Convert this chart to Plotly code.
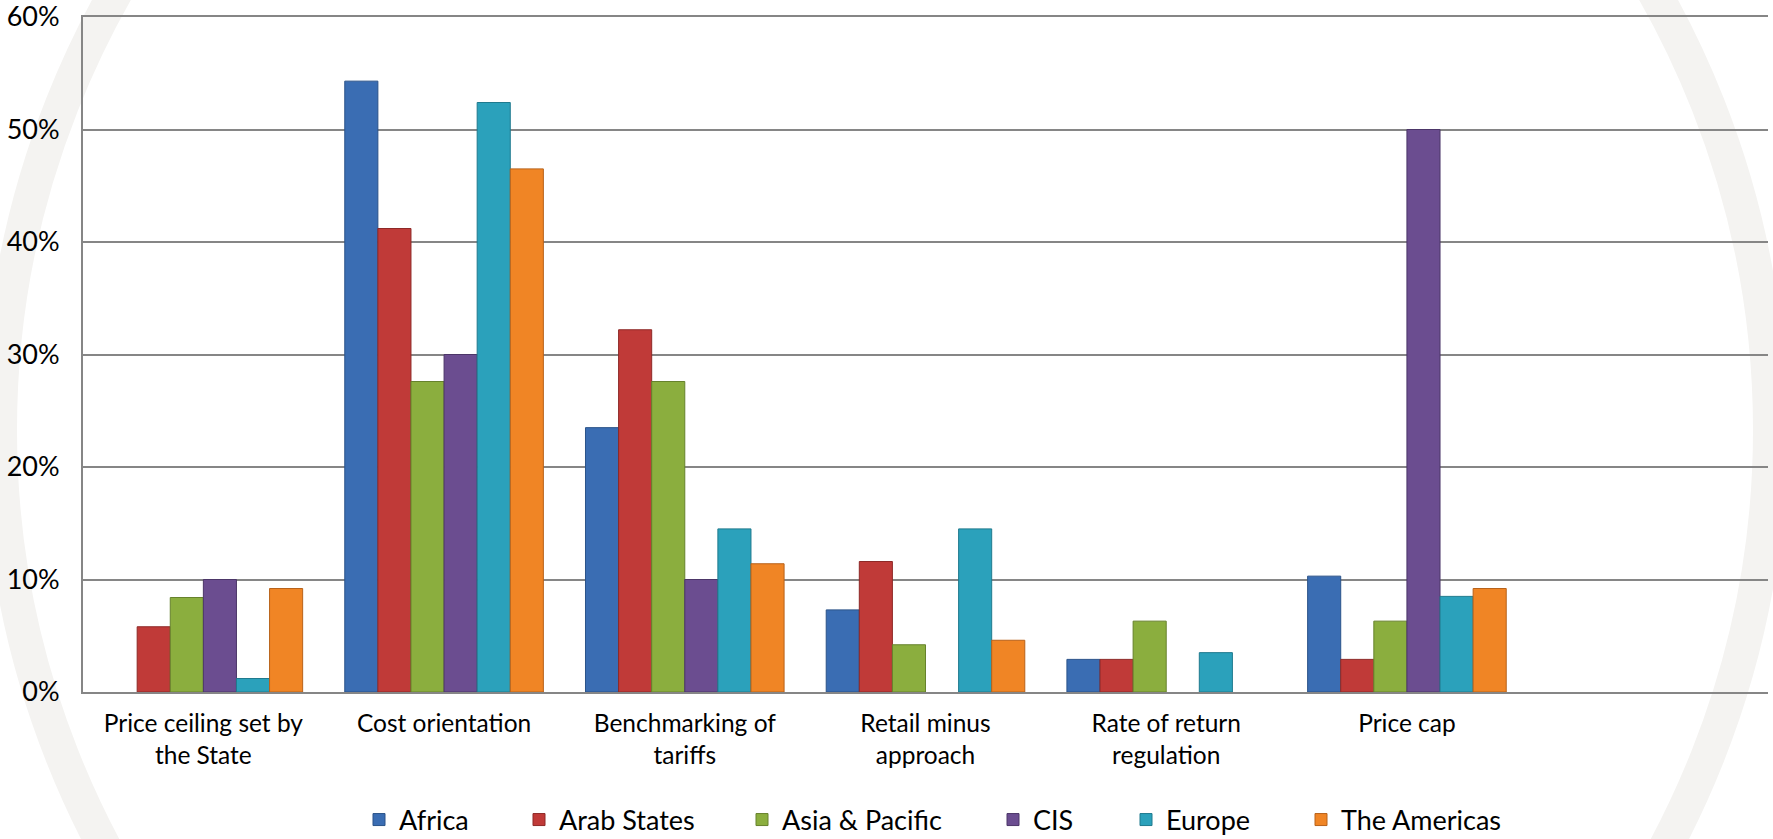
import plotly.graph_objects as go

categories = ["Price ceiling set by<br>the State", "Cost orientation", "Benchmarking of<br>tariffs",
              "Retail minus<br>approach", "Rate of return<br>regulation", "Price cap"]
regions = ["Africa", "Arab States", "Asia & Pacific", "CIS", "Europe", "The Americas"]
africa = [None, 54.3, 23.5, 7.3, 2.9, 10.3]
arab_states = [5.8, 41.2, 32.2, 11.6, 2.9, 2.9]
asia_pacific = [8.4, 27.6, 27.6, 4.2, 6.3, 6.3]
cis = [10.0, 30.0, 10.0, None, None, 50.0]
europe = [1.2, 52.4, 14.5, 14.5, 3.5, 8.5]
americas = [9.2, 46.5, 11.4, 4.6, None, 9.2]
y_tick_vals = [0, 10, 20, 30, 40, 50, 60]
y_tick_text = ["0%", "10%", "20%", "30%", "40%", "50%", "60%"]
series = [africa, arab_states, asia_pacific, cis, europe, americas]
colors = ["#3a6db3", "#c03a38", "#8bae3e", "#6b4d90", "#2ba1bb", "#f08525"]
edges = ["#2b5389", "#8e2927", "#66822c", "#4c3668", "#1f7a8e", "#b8621a"]
legend_text_px = [403, 563, 786, 1037, 1170, 1345]

W, H = 1773, 839
L, R, T, B = 83, 5, 17, 147
pw, ph = W - L - R, H - T - B

def px2x(px):
    return (px - L) / pw

def py2y(py):
    return (H - B - py) / ph

fig = go.Figure()
for i, (name, vals) in enumerate(zip(regions, series)):
    lg = "legend" if i == 0 else f"legend{i+1}"
    fig.add_trace(go.Bar(
        x=list(range(len(categories))), y=vals, name=name,
        marker=dict(color=colors[i], line=dict(color=edges[i], width=1)),
        legend=lg,
    ))

font = "Lato, 'Open Sans', sans-serif"
leg_common = dict(orientation="h", yanchor="middle", xanchor="left",
                  font=dict(family=font, size=27, color="#000000"),
                  bgcolor="rgba(0,0,0,0)", itemwidth=30, borderwidth=0)
legends = {}
for i, tx in enumerate(legend_text_px):
    key = "legend" if i == 0 else f"legend{i+1}"
    legends[key] = dict(leg_common, x=px2x(tx - 44), y=py2y(820))

# faint globe watermark
cx, cy, rr = 885, 430, 885
shapes = [dict(type="circle", xref="paper", yref="paper",
               x0=px2x(cx - rr), x1=px2x(cx + rr), y0=py2y(cy + rr), y1=py2y(cy - rr),
               line=dict(color="#f4f3f1", width=34), layer="below")]

fig.update_layout(
    width=W, height=H,
    margin=dict(l=L, r=R, t=T, b=B, autoexpand=False),
    paper_bgcolor="white", plot_bgcolor="rgba(0,0,0,0)",
    barmode="group", bargap=0.175, bargroupgap=0,
    font=dict(family=font, size=24, color="#000000"),
    showlegend=True,
    shapes=shapes,
    xaxis=dict(
        tickmode="array", tickvals=list(range(len(categories))), ticktext=categories,
        range=[-0.5, 6.5], showgrid=False, zeroline=False, automargin=False,
        showline=True, mirror=True, linecolor="#868686", linewidth=2, ticks="",
        tickfont=dict(family=font, size=24.5, color="#000000"),
        ticklabelstandoff=9,
    ),
    yaxis=dict(
        range=[0, 60], tickmode="array", tickvals=y_tick_vals, ticktext=y_tick_text,
        showgrid=True, gridcolor="#868686", gridwidth=2, automargin=False,
        zeroline=False, showline=True, linecolor="#868686", linewidth=2, ticks="",
        tickfont=dict(family=font, size=27, color="#000000"),
        ticklabelstandoff=16, ticklabeloverflow="allow",
    ),
    **legends,
)

fig.write_html("out.html", config={"displayModeBar": False},
               post_script="document.body.style.margin='0';document.body.style.overflow='hidden';")
